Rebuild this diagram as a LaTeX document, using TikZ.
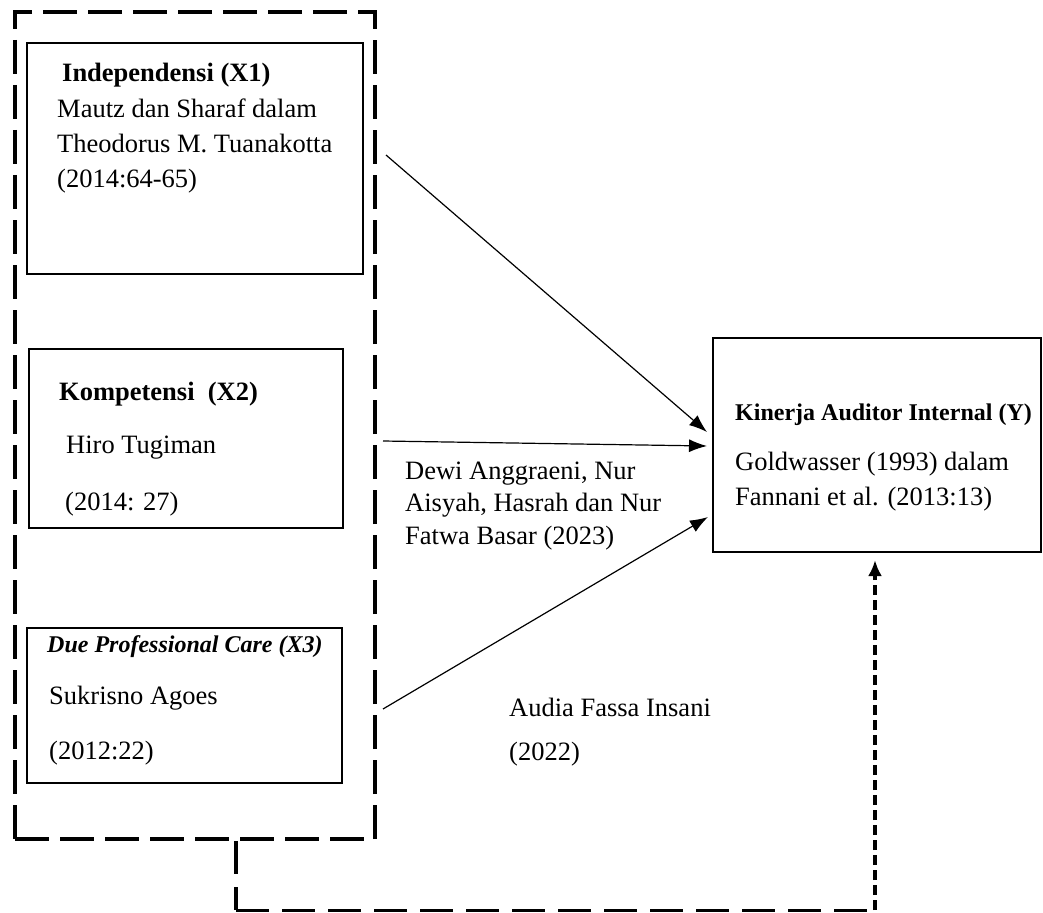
\documentclass[tikz,border=0pt]{standalone}
\usepackage{fontspec}
\setmainfont{Liberation Serif}
\usetikzlibrary{arrows.meta}
\begin{document}
\begin{tikzpicture}[x=1pt,y=-1pt,
  box/.style={draw, line width=1.8pt, minimum width=#1, inner sep=0pt},
  txt/.style={anchor=base west, inner sep=0pt, font=\fontsize{26.5}{32}\selectfont},
  hdr/.style={anchor=base west, inner sep=0pt, font=\fontsize{26.5}{32}\selectfont\bfseries},
  hdrs/.style={anchor=base west, inner sep=0pt, font=\fontsize{24}{30}\selectfont\bfseries},
  grpline/.style={line width=4pt, dash pattern=on 34pt off 11pt},
  link/.style={line width=1.2pt, -{Latex[length=18pt,width=13pt]}},
]
\useasboundingbox (0,0) rectangle (1043,912);

% group box
\node[draw, grpline, minimum width=360pt, minimum height=827pt, inner sep=0pt] (grp) at (195,425.5) {};

% variable boxes
\node[box=336pt, minimum height=231pt] (x1) at (195,158.5) {};
\node[box=314pt, minimum height=179pt] (x2) at (186,438.5) {};
\node[box=315pt, minimum height=155pt] (x3) at (184.5,705.5) {};
\node[box=328pt, minimum height=214pt, line width=2.2pt] (y) at (877,445) {};

% texts X1
\node[hdr] (t11) at (62,82) {Independensi (X1)};
\node[txt] (t12) at (57,118) {Mautz dan Sharaf dalam};
\node[txt] (t13) at (57,153) {Theodorus M. Tuanakotta};
\node[txt] (t14) at (57,188) {(2014:64-65)};
% texts X2
\node[hdr] (t21) at (59,400) {Kompetensi\ \ (X2)};
\node[txt] (t22) at (66,453) {Hiro Tugiman};
\node[txt] (t23) at (65,510) {(2014: 27)};
% texts X3
\node[hdrs, font=\fontsize{24}{30}\selectfont\bfseries\itshape] (t31) at (47,652) {Due Professional Care (X3)};
\node[txt] (t32) at (49,704) {Sukrisno Agoes};
\node[txt] (t33) at (49,759) {(2012:22)};
% texts Y
\node[hdrs] (ty1) at (735,420) {Kinerja Auditor Internal (Y)};
\node[txt] (ty2) at (735,470) {Goldwasser (1993) dalam};
\node[txt] (ty3) at (735,505) {Fannani et al. (2013:13)};
% middle labels
\node[txt] (m1) at (405,479) {Dewi Anggraeni, Nur};
\node[txt] (m2) at (405,511) {Aisyah, Hasrah dan Nur};
\node[txt] (m3) at (405,544) {Fatwa Basar (2023)};
\node[txt] (a1) at (509,716) {Audia Fassa Insani};
\node[txt] (a2) at (509,760) {(2022)};

% arrow anchors
\coordinate (s1) at (386,155);
\coordinate (e1) at (707,432);
\coordinate (s2) at (383,441);
\coordinate (e2) at (707,446);
\coordinate (s3) at (383,709);
\coordinate (e3) at (708,517);
\draw[link] (s1) -- (e1);
\draw[link] (s2) -- (e2);
\draw[link] (s3) -- (e3);

% dashed connector from group to Y
\coordinate (c1) at (236,910);
\coordinate (c2) at (875,910);
\draw[line width=4pt, dash pattern=on 33pt off 13pt] (c1 |- grp.south) -- (c1);
\draw[line width=3pt, dash pattern=on 33pt off 13pt] (c1) -- (c2);
\draw[line width=3.5pt, dash pattern=on 10pt off 5pt, -{Latex[length=16pt,width=14pt]}, shorten >=7pt] (c2) -- (c2 |- y.south);
\end{tikzpicture}
\end{document}
